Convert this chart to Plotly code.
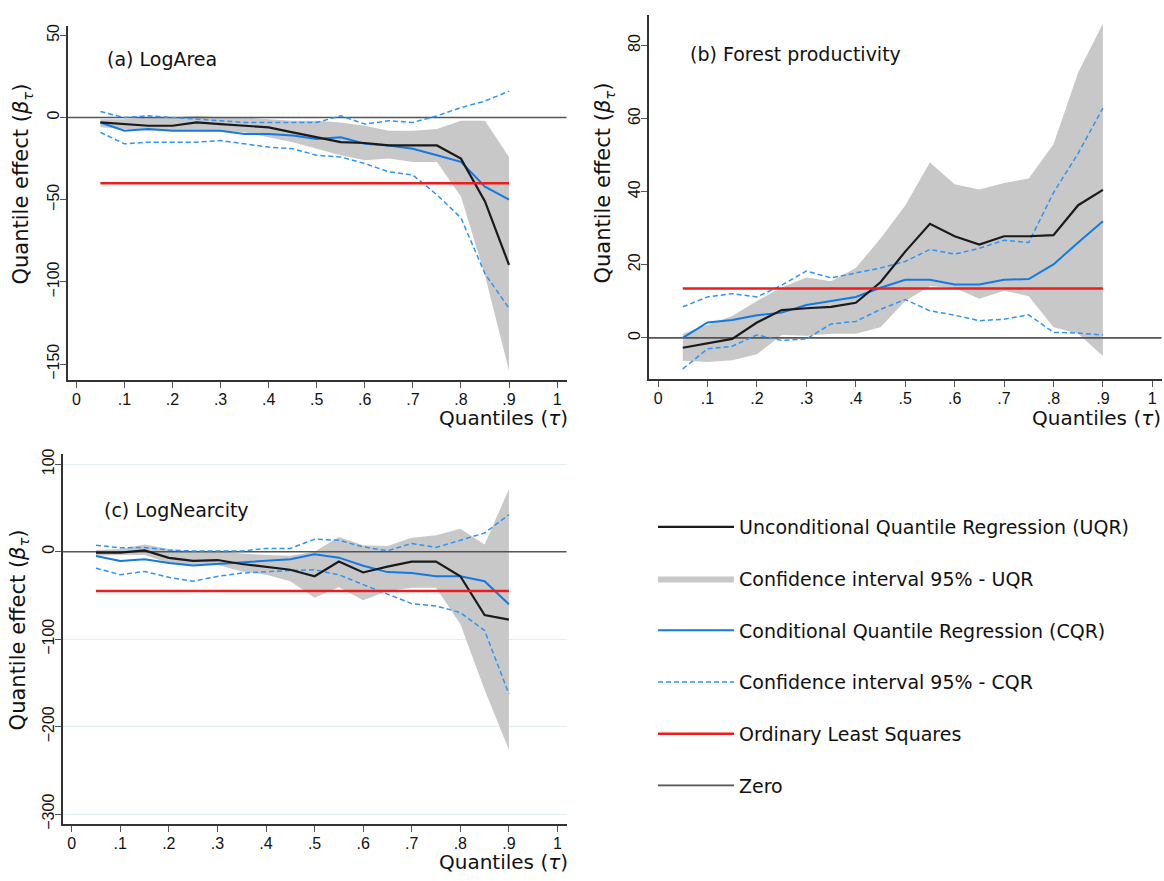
import plotly.graph_objects as go

# ---------------- data ----------------
tau = [0.05, 0.10, 0.15, 0.20, 0.25, 0.30, 0.35, 0.40, 0.45,
       0.50, 0.55, 0.60, 0.65, 0.70, 0.75, 0.80, 0.85, 0.90]

x_tick_vals = [0, 0.1, 0.2, 0.3, 0.4, 0.5, 0.6, 0.7, 0.8, 0.9, 1]
x_tick_text = ["0", ".1", ".2", ".3", ".4", ".5", ".6", ".7", ".8", ".9", "1"]

# (a) LogArea
uqr_a = [-3, -4, -5, -5, -3, -4, -5, -6, -9, -12, -15, -15.5, -17, -17, -17, -25, -51, -89.6]
uqr_hi_a = [-1, -1, 0, 0, 1, 0, 0, -1, -2, -2, -3, -5, -8, -8, -7, -2, -2, -24]
uqr_lo_a = [-6, -7, -8, -8, -8, -8, -9, -12, -15, -19, -23, -26, -25, -27, -27, -48, -96, -154]
cqr_a = [-3, -8, -7, -8, -8, -8, -10, -10, -11, -13, -12, -16, -17, -19, -23, -27, -42, -50]
cqr_hi_a = [3.6, 0, 1, 0, -1, -2, -3, -3, -3, -3, 1, -4, -2, -3, 1, 6, 10, 16]
cqr_lo_a = [-9, -16, -15, -15, -15, -14, -16, -18, -19, -23, -24, -28, -33, -35, -47, -61, -95, -116]
ols_a = -40
y_ticks_a = [50, 0, -50, -100, -150]

# (b) Forest productivity
uqr_b = [-2.7, -1.6, -0.3, 4.2, 7.6, 8.1, 8.5, 9.6, 15.2, 23.6, 31.2, 27.8, 25.5, 27.8, 27.8, 28.1, 36.3, 40.5]
uqr_hi_b = [1.1, 3.6, 6, 10.1, 13.8, 16.5, 15.5, 19.1, 27.2, 36.2, 48, 42, 40.6, 42.4, 43.6, 53, 72.6, 86]
uqr_lo_b = [-6.3, -6.6, -6.1, -4.5, 0.8, 0.6, 1.1, 1.1, 2.9, 10.1, 14.1, 13.7, 10.7, 12.9, 11.4, 2.9, 1.1, -5]
cqr_b = [0, 4.2, 4.9, 6.2, 6.9, 9.0, 10.1, 11.2, 13.7, 15.9, 15.9, 14.6, 14.6, 15.9, 16.1, 20.1, 26.1, 31.9]
cqr_hi_b = [8.5, 11.2, 12.1, 11.2, 14.4, 18.3, 16.4, 17.7, 19.1, 20.9, 24.2, 22.9, 24.5, 26.7, 26.1, 39.7, 50.5, 62.9]
cqr_lo_b = [-8.5, -3, -2.3, 0.8, -0.7, -0.3, 3.8, 4.5, 7.8, 10.5, 7.4, 6.2, 4.7, 5.1, 6.3, 1.5, 1.3, 0.8]
ols_b = 13.5
y_ticks_b = [80, 60, 40, 20, 0]

# (c) LogNearcity
uqr_c = [-1, -1, 1.5, -7, -10.5, -9.5, -14, -17.6, -20.6, -28, -11.3, -23.7, -17, -11.3, -11.3, -28, -72.5, -77.7]
uqr_hi_c = [1.9, 3, 8.3, 3, 0, 0.8, -1.9, -3.8, -4.5, 0, 16.9, 7.5, 6.4, 16.1, 18.8, 26.3, 8.3, 71.3]
uqr_lo_c = [-4.5, -3.8, -3.8, -13.1, -15, -15, -22.5, -26.3, -33.8, -52.6, -40.6, -55.6, -45, -41.3, -41.3, -82.6, -157.7, -226.4]
cqr_c = [-5, -10.5, -8.6, -13, -15.8, -14, -12, -10, -8.6, -3, -6.8, -16, -23.3, -24.4, -28, -28, -33.8, -60]
cqr_hi_c = [7.5, 4.5, 4.9, 1.9, 0.8, 0.8, 0.8, 3.8, 3.8, 14.3, 13.1, 5.6, 1.1, 9.4, 4.9, 13.1, 21.4, 42.4]
cqr_lo_c = [-18.8, -26.3, -22.5, -29.3, -33.8, -28.2, -24.4, -22.5, -21.4, -20.7, -26.3, -37.6, -48.8, -59.3, -62, -69.5, -90, -162.6]
ols_c = -45
y_ticks_c = [100, 0, -100, -200, -300]

panel_titles = ["(a) LogArea", "(b) Forest productivity", "(c) LogNearcity"]
legend_names = ["Unconditional Quantile Regression (UQR)",
                "Confidence interval 95% - UQR",
                "Conditional Quantile Regression (CQR)",
                "Confidence interval 95% - CQR",
                "Ordinary Least Squares",
                "Zero"]

# ---------------- styling ----------------
W, H = 1164, 881
C_UQR = "#1a1a1a"
C_BAND = "#c8c8c8"
C_CQR = "#1479e0"
C_CQR_CI = "#2e94f5"
C_OLS = "#ee1c1c"
C_ZERO = "#555555"
TXT_FONT = "DejaVu Sans"
TICK_FONT = "Liberation Sans"


def px_x(p):
    return p / W


def px_y(p):
    return 1 - p / H


panels = [
    dict(uqr=uqr_a, hi=uqr_hi_a, lo=uqr_lo_a, cqr=cqr_a, chi=cqr_hi_a, clo=cqr_lo_a, ols=ols_a,
         yticks=y_ticks_a, xr=[-0.018, 1.02], yr=[-159.5, 55.8],
         dx=[67.7, 566.7], dy=[379, 20], grid=False),
    dict(uqr=uqr_b, hi=uqr_hi_b, lo=uqr_lo_b, cqr=cqr_b, chi=cqr_hi_b, clo=cqr_lo_b, ols=ols_b,
         yticks=y_ticks_b, xr=[-0.019, 1.019], yr=[-11.3, 88.3],
         dx=[648.7, 1161.7], dy=[378.3, 9.3], grid=False),
    dict(uqr=uqr_c, hi=uqr_hi_c, lo=uqr_lo_c, cqr=cqr_c, chi=cqr_hi_c, clo=cqr_lo_c, ols=ols_c,
         yticks=y_ticks_c, xr=[-0.0185, 1.019], yr=[-311.3, 111.6],
         dx=[62.7, 566.7], dy=[829.3, 454.3], grid=True),
]

fig = go.Figure()
layout_axes = {}

for i, p in enumerate(panels):
    n = "" if i == 0 else str(i + 1)
    xa, ya = "x" + n, "y" + n
    show = (i == 0)

    # UQR confidence band
    fig.add_trace(go.Scatter(
        x=tau + tau[::-1], y=p["hi"] + p["lo"][::-1], xaxis=xa, yaxis=ya,
        fill="toself", fillcolor=C_BAND, line=dict(width=0, color=C_BAND),
        mode="lines", name=legend_names[1], legendrank=2, legendgroup="g2",
        showlegend=show, hoverinfo="skip"))
    # Zero line
    fig.add_trace(go.Scatter(
        x=p["xr"], y=[0, 0], xaxis=xa, yaxis=ya, mode="lines",
        line=dict(color=C_ZERO, width=1.6), name=legend_names[5], legendrank=6,
        legendgroup="g6", showlegend=show))
    # CQR CI
    fig.add_trace(go.Scatter(
        x=tau, y=p["chi"], xaxis=xa, yaxis=ya, mode="lines",
        line=dict(color=C_CQR_CI, width=1.5, dash="5px,3px"), name=legend_names[3],
        legendrank=4, legendgroup="g4", showlegend=show))
    fig.add_trace(go.Scatter(
        x=tau, y=p["clo"], xaxis=xa, yaxis=ya, mode="lines",
        line=dict(color=C_CQR_CI, width=1.5, dash="5px,3px"), name=legend_names[3],
        legendgroup="g4", showlegend=False))
    # CQR
    fig.add_trace(go.Scatter(
        x=tau, y=p["cqr"], xaxis=xa, yaxis=ya, mode="lines",
        line=dict(color=C_CQR, width=2), name=legend_names[2], legendrank=3,
        legendgroup="g3", showlegend=show))
    # UQR
    fig.add_trace(go.Scatter(
        x=tau, y=p["uqr"], xaxis=xa, yaxis=ya, mode="lines",
        line=dict(color=C_UQR, width=2.2), name=legend_names[0], legendrank=1,
        legendgroup="g1", showlegend=show))
    # OLS
    fig.add_trace(go.Scatter(
        x=[tau[0], tau[-1]], y=[p["ols"], p["ols"]], xaxis=xa, yaxis=ya, mode="lines",
        line=dict(color=C_OLS, width=2.5), name=legend_names[4], legendrank=5,
        legendgroup="g5", showlegend=show))

    common = dict(showline=True, linecolor="#333333", linewidth=2, ticks="outside",
                  ticklen=6, tickwidth=1.2, tickcolor="#555555", zeroline=False,
                  tickfont=dict(family=TICK_FONT, size=16, color="#111111"))
    layout_axes["xaxis" + n] = dict(
        common, domain=[px_x(p["dx"][0]), px_x(p["dx"][1])], range=p["xr"],
        anchor=ya, tickvals=x_tick_vals, ticktext=x_tick_text, showgrid=False,
        ticklabelstandoff=-2)
    layout_axes["yaxis" + n] = dict(
        common, domain=[px_y(p["dy"][0]), px_y(p["dy"][1])], range=p["yr"],
        anchor=xa, tickvals=p["yticks"], tickangle=-90, showgrid=p["grid"],
        gridcolor="#e3eef1", gridwidth=1, ticklabelstandoff=-6)

fig.update_layout(**layout_axes)

ann = []
# panel titles
for (x0, yc), t in zip([(105, 54), (688, 49), (102, 511)], panel_titles):
    ann.append(dict(x=px_x(x0), y=px_y(yc), xref="paper", yref="paper", text=t,
                    showarrow=False, xanchor="left", yanchor="middle",
                    font=dict(family=TXT_FONT, size=19, color="#111111")))
# x titles
for (xr, yc) in [(570, 418), (1163, 418), (570, 868)]:
    ann.append(dict(x=px_x(xr), y=px_y(yc), xref="paper", yref="paper",
                    text="Quantiles (<i>τ</i>)", showarrow=False,
                    xanchor="right", yanchor="middle",
                    font=dict(family=TXT_FONT, size=20, color="#111111")))
# y titles
for (xc, yc) in [(22, 181), (604, 180), (19, 633)]:
    ann.append(dict(x=px_x(xc), y=px_y(yc), xref="paper", yref="paper",
                    text="Quantile effect (<i>β</i><sub><i>τ</i></sub>)", textangle=-90,
                    showarrow=False, xanchor="center", yanchor="middle",
                    font=dict(family=TXT_FONT, size=21, color="#111111")))

fig.update_layout(
    width=W, height=H, margin=dict(l=0, r=0, t=0, b=0),
    paper_bgcolor="white", plot_bgcolor="white",
    annotations=ann,
    showlegend=True,
    legend=dict(x=px_x(653), y=px_y(509), xanchor="left", yanchor="top",
                font=dict(family=TXT_FONT, size=19, color="#111111"),
                itemwidth=76, tracegroupgap=24, traceorder="grouped",
                bgcolor="rgba(0,0,0,0)"),
)

fig.write_html(
    "out.html",
    config={"displayModeBar": False},
    post_script="document.body.style.margin='0';document.body.style.overflow='hidden';",
)
